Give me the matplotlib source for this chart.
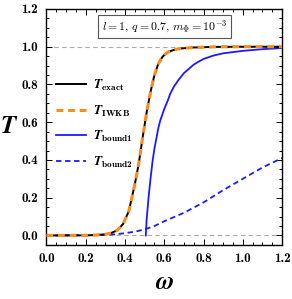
import matplotlib
matplotlib.use("Agg")
import matplotlib.pyplot as plt
from matplotlib.ticker import MultipleLocator, FormatStrFormatter

plt.rcParams["font.family"] = "cmb10"
plt.rcParams["mathtext.fontset"] = "custom"
plt.rcParams["mathtext.rm"] = "cmr10"
plt.rcParams["mathtext.it"] = "cmmi10"
plt.rcParams["mathtext.bf"] = "cmb10"
plt.rcParams["mathtext.bfit"] = "STIXGeneral:italic:bold"
plt.rcParams["axes.unicode_minus"] = False

# transmission curves
w_exact = [0.0, 0.2, 0.25, 0.3, 0.33, 0.36, 0.39, 0.42, 0.45, 0.47, 0.49, 0.51,
           0.53, 0.55, 0.57, 0.59, 0.6, 0.61, 0.62, 0.64, 0.66, 0.68, 0.75, 0.85,
           1.0, 1.2]
t_exact = [0.0, 0.0005, 0.002, 0.006, 0.013, 0.027, 0.06, 0.13, 0.27, 0.38, 0.52, 0.65,
           0.76, 0.85, 0.91, 0.945, 0.956, 0.965, 0.972, 0.98, 0.986, 0.99, 0.996, 0.999,
           1.0, 1.0]
t_iwkb = t_exact

w_bound1 = [0.506, 0.51, 0.52, 0.53, 0.54, 0.55, 0.57, 0.58, 0.6, 0.62, 0.63, 0.65,
            0.67, 0.7, 0.75, 0.77, 0.8, 0.85, 0.9, 1.0, 1.1, 1.2]
t_bound1 = [0.0, 0.08, 0.2, 0.3, 0.39, 0.46, 0.57, 0.61, 0.67, 0.72, 0.75, 0.79,
            0.82, 0.86, 0.905, 0.918, 0.935, 0.953, 0.965, 0.978, 0.987, 0.993]

w_bound2 = [0.0, 0.2, 0.3, 0.35, 0.4, 0.45, 0.5, 0.55, 0.6, 0.7, 0.8, 0.9,
            1.0, 1.1, 1.2]
t_bound2 = [0.0, 0.001, 0.003, 0.006, 0.012, 0.02, 0.032, 0.05, 0.075, 0.12,
            0.175, 0.24, 0.3, 0.36, 0.41]

fig = plt.figure(figsize=(2.92, 2.99), dpi=100)
ax = fig.add_axes([0.159, 0.181, 0.807, 0.789])

ax.axhline(0, color="#aaaaaa", lw=0.8, ls=(0, (4, 3)), zorder=1)
ax.axhline(1, color="#aaaaaa", lw=0.8, ls=(0, (4, 3)), zorder=1)

ax.plot(w_exact, t_exact, color="black", lw=1.4,
        label=r"$\mathbfit{T}_{\mathbf{exact}}$", zorder=3)
ax.plot(w_exact, t_iwkb, color="#ff8c1a", lw=2.2, ls=(0, (2.2, 1.6)),
        label=r"$\mathbfit{T}_{\mathbf{IWKB}}$", zorder=4)
ax.plot(w_bound1, t_bound1, color="#1a1aff", lw=1.3,
        label=r"$\mathbfit{T}_{\mathbf{bound1}}$", zorder=2)
ax.plot(w_bound2, t_bound2, color="#1a1aff", lw=1.3, ls=(0, (3, 2)),
        label=r"$\mathbfit{T}_{\mathbf{bound2}}$", zorder=2)

ax.set_xlim(0, 1.2)
ax.set_ylim(-0.05, 1.2)
ax.xaxis.set_major_locator(MultipleLocator(0.2))
ax.xaxis.set_minor_locator(MultipleLocator(0.05))
ax.yaxis.set_major_locator(MultipleLocator(0.2))
ax.yaxis.set_minor_locator(MultipleLocator(0.05))
ax.xaxis.set_major_formatter(FormatStrFormatter("%.1f"))
ax.yaxis.set_major_formatter(FormatStrFormatter("%.1f"))
ax.tick_params(which="both", direction="in", top=True, right=True, width=0.7)
ax.tick_params(which="major", length=4)
ax.tick_params(which="minor", length=2)
ax.tick_params(labelsize=9.5, pad=6)
for sp in ax.spines.values():
    sp.set_linewidth(1.0)

ax.set_xlabel(r"$\mathbfit{\omega}$", fontsize=18, va="center")
ax.xaxis.set_label_coords(0.5, -0.16)
ax.set_ylabel(r"$\mathbfit{T}$", fontsize=18, rotation=0, va="center", ha="center")
ax.yaxis.set_label_coords(-0.16, 0.5)

ax.text(0.5, 0.925, r"$l=1,\,q=0.7,\,m_{\Phi}=10^{-3}$", transform=ax.transAxes,
        ha="center", va="center", fontsize=8.5, math_fontfamily="cm",
        bbox=dict(boxstyle="square,pad=0.3", fc="white", ec="#555555", lw=0.8))

leg = ax.legend(loc="center left", bbox_to_anchor=(0.0, 0.513), frameon=False,
                fontsize=9.5, handlelength=2.3, labelspacing=0.78, borderaxespad=0.3,
                handletextpad=0.55)

fig.savefig("out.png", dpi=100)
